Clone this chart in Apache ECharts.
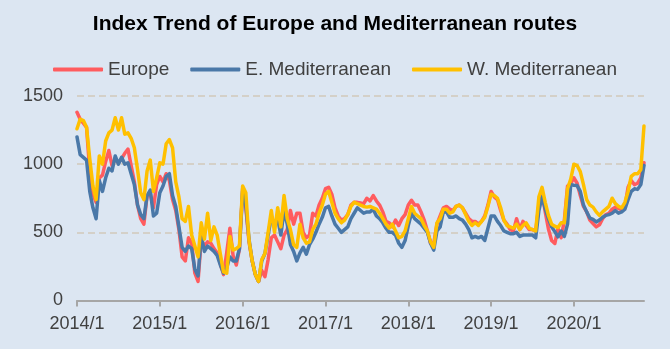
<!DOCTYPE html>
<html>
<head>
<meta charset="utf-8">
<script src="https://cdn.jsdelivr.net/npm/echarts@6/dist/echarts.min.js"></script>
<style>
  html, body { margin: 0; padding: 0; background: #dce6f2; }
  #chart { width: 670px; height: 349px; }
</style>
</head>
<body>
<div id="chart"></div>
<script>
// Fortnightly periods: 26 per year from 2014 to 2019, 23 in 2020
const years = [2014, 2015, 2016, 2017, 2018, 2019, 2020];
const periodsPerYear = [26, 26, 26, 26, 26, 26, 23];

const categories = [];
years.forEach((y, k) => {
  for (let p = 1; p <= periodsPerYear[k]; p++) categories.push(y + '/' + p);
});

const yTicks = { min: 0, max: 1500, step: 500 };

const europe = [
  1380,1330,1300,1270,950,780,720,900,920,1020,
  1100,990,1040,1010,1040,1080,1110,990,870,700,
  600,560,770,780,680,850,910,870,930,880,
  740,660,520,320,290,460,420,200,140,450,
  400,430,420,380,350,270,190,350,530,330,
  260,380,820,680,430,290,190,140,220,175,
  300,460,480,430,380,480,520,660,560,640,
  640,500,460,480,640,620,700,750,820,830,
  780,680,620,590,600,630,700,720,720,715,
  710,750,730,770,730,700,650,580,570,540,
  590,550,600,630,700,735,700,700,650,590,
  510,420,420,560,620,680,690,670,660,690,
  700,680,640,600,580,580,560,580,620,700,
  800,760,740,660,590,560,520,510,600,520,
  580,550,520,520,510,700,790,650,525,440,
  418,527,460,590,840,860,900,860,770,690,
  650,590,565,540,555,600,630,640,670,685,
  675,665,690,830,880,850,860,900,1010
];

const eMed = [
  1200,1070,1050,1030,800,680,600,880,800,900,
  970,950,1060,1000,1050,1000,1010,930,850,700,
  630,600,770,810,620,640,790,840,910,930,
  770,690,540,390,360,400,380,230,180,470,
  360,400,380,360,330,260,200,240,320,290,
  290,380,800,700,450,290,190,140,290,345,
  480,610,560,600,480,660,560,410,360,290,
  350,390,340,410,450,500,560,610,680,690,
  620,560,530,500,520,540,600,640,680,660,
  640,650,650,670,620,600,570,530,500,500,
  480,420,390,440,550,640,600,580,560,530,
  500,420,370,510,540,650,650,610,610,620,
  600,590,560,520,460,470,460,470,440,530,
  620,620,580,550,510,500,490,490,500,470,
  480,480,480,480,460,660,760,670,600,540,
  505,467,510,470,560,850,845,843,800,700,
  650,605,595,576,590,610,624,630,640,660,
  640,650,670,740,800,819,815,850,990
];

const wMed = [
  1260,1330,1320,1270,1040,840,740,1060,1000,1170,
  1230,1250,1340,1250,1340,1220,1230,1190,1120,960,
  790,740,950,1030,800,900,1010,1000,1150,1180,
  1120,870,760,600,580,690,480,400,320,570,
  450,640,440,540,480,340,210,200,470,370,
  380,400,840,790,440,290,190,140,300,345,
  500,660,500,680,540,770,600,520,410,390,
  560,460,420,430,520,560,640,700,780,800,
  720,640,600,570,590,630,690,720,710,700,
  690,685,690,680,670,640,600,560,530,560,
  510,460,470,510,600,690,640,620,600,550,
  510,430,390,570,600,670,670,640,650,690,
  700,680,630,580,550,570,550,580,610,690,
  780,770,750,680,590,550,540,530,560,520,
  550,570,530,520,510,760,830,720,624,560,
  545,535,570,570,820,890,1000,990,945,850,
  740,700,685,650,624,650,670,690,750,710,
  690,680,720,800,910,930,930,960,1280
];

const seriesNames = ['Europe', 'E. Mediterranean', 'W. Mediterranean'];
const seriesColors = ['#ff5c5f', '#4a78a8', '#ffc000'];
const seriesData = [europe, eMed, wMed];

const font = '"Liberation Sans", Arial, sans-serif';
const isYearStart = (idx, value) => String(value).endsWith('/1');

const chart = echarts.init(document.getElementById('chart'), null, { renderer: 'canvas' });
chart.setOption({
  backgroundColor: '#dce6f2',
  animation: false,
  title: {
    text: 'Index Trend of Europe and Mediterranean routes',
    left: 'center',
    top: 9,
    textStyle: { fontFamily: font, fontSize: 21, fontWeight: 'bold', color: '#000' }
  },
  legend: {
    data: seriesNames,
    left: 'center',
    top: 55,
    icon: 'roundRect',
    itemWidth: 50,
    itemHeight: 4,
    itemGap: 21,
    textStyle: { fontFamily: font, fontSize: 19, color: '#404040' }
  },
  grid: { left: 77, right: 26, top: 96, bottom: 48.5, containLabel: false },
  xAxis: {
    type: 'category',
    data: categories,
    boundaryGap: false,
    axisLine: { lineStyle: { color: '#a6a6a6', width: 2 } },
    axisTick: { interval: isYearStart, length: 6, lineStyle: { color: '#a6a6a6', width: 2 } },
    axisLabel: {
      interval: isYearStart,
      formatter: v => v,
      margin: 15,
      fontFamily: font, fontSize: 18, color: '#404040'
    },
    splitLine: { show: false }
  },
  yAxis: {
    type: 'value',
    min: yTicks.min,
    max: yTicks.max,
    interval: yTicks.step,
    axisLine: { show: false },
    axisTick: { show: false },
    axisLabel: {
      margin: 14,
      formatter: v => String(v),
      fontFamily: font, fontSize: 18, color: '#404040'
    },
    splitLine: {
      show: true,
      showMinLine: false,
      lineStyle: { color: '#d4d0c8', width: 2, type: [7, 4] }
    }
  },
  series: seriesNames.map((name, k) => ({
    name,
    type: 'line',
    data: seriesData[k],
    showSymbol: false,
    symbol: 'none',
    smooth: false,
    lineStyle: { color: seriesColors[k], width: 3.5, join: 'round', cap: 'round' },
    itemStyle: { color: seriesColors[k] },
    z: 2 + k
  }))
});
</script>
</body>
</html>
